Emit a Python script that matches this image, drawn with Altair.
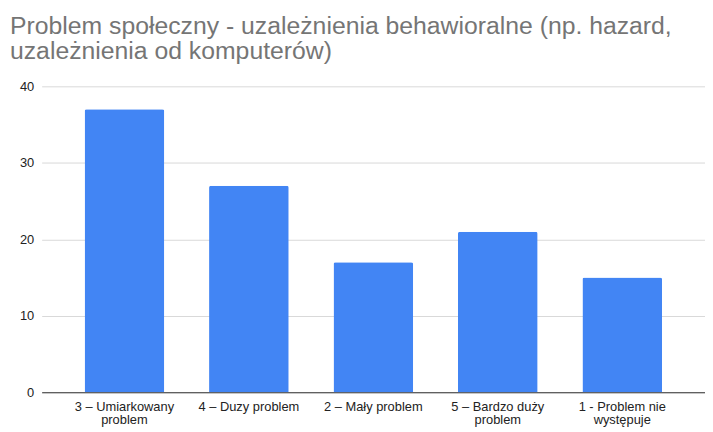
import altair as alt
import pandas as pd

categories = ["3 – Umiarkowany problem", "4 – Duzy problem", "2 – Mały problem",
              "5 – Bardzo duży problem", "1 - Problem nie występuje"]
values = [37, 27, 17, 21, 15]
label_lines = [["3 – Umiarkowany", "problem"], ["4 – Duzy problem"], ["2 – Mały problem"],
               ["5 – Bardzo duży", "problem"], ["1 - Problem nie", "występuje"]]
title_lines = ["Problem społeczny - uzależnienia behawioralne (np. hazard,",
               "uzależnienia od komputerów)"]

df = pd.DataFrame({"cat": categories, "val": values})

expr = "''"
for c, lines in reversed(list(zip(categories, label_lines))):
    arr = "[" + ",".join("'" + l + "'" for l in lines) + "]"
    expr = f"datum.label == '{c}' ? {arr} : ({expr})"

font = "Liberation Sans"

bars = alt.Chart(df).mark_bar(color="#4285F4", cornerRadiusTopLeft=2, cornerRadiusTopRight=2).encode(
    x=alt.X("cat:N", sort=categories, title=None,
            scale=alt.Scale(paddingInner=0.36, paddingOuter=0.345),
            axis=alt.Axis(labelExpr=expr, labelAngle=0, labelFont=font, labelFontSize=13,
                          labelColor="#222222", ticks=False, domainColor="#333333",
                          domainWidth=1, labelPadding=8, labelLineHeight=14)),
    y=alt.Y("val:Q", title=None, scale=alt.Scale(domain=[0, 40]),
            axis=alt.Axis(values=[0, 10, 20, 30, 40], labelFont=font, labelFontSize=13,
                          labelColor="#222222", ticks=False, domain=False, labelPadding=8,
                          gridColor="#d9d9d9", gridWidth=1)),
)

chart = bars.properties(
    width=670, height=309,
    title=alt.TitleParams(title_lines, anchor="start", frame="group", font=font, fontSize=25,
                          fontWeight="normal", color="#757575", dx=-32, offset=17,
                          lineHeight=25),
    autosize=alt.AutoSizeParams(type="none"),
    padding={"left": 34, "top": 77, "right": 0, "bottom": 36},
).configure_view(stroke=None)

chart.save("out.html", embed_options={"renderer": "svg", "actions": False})
